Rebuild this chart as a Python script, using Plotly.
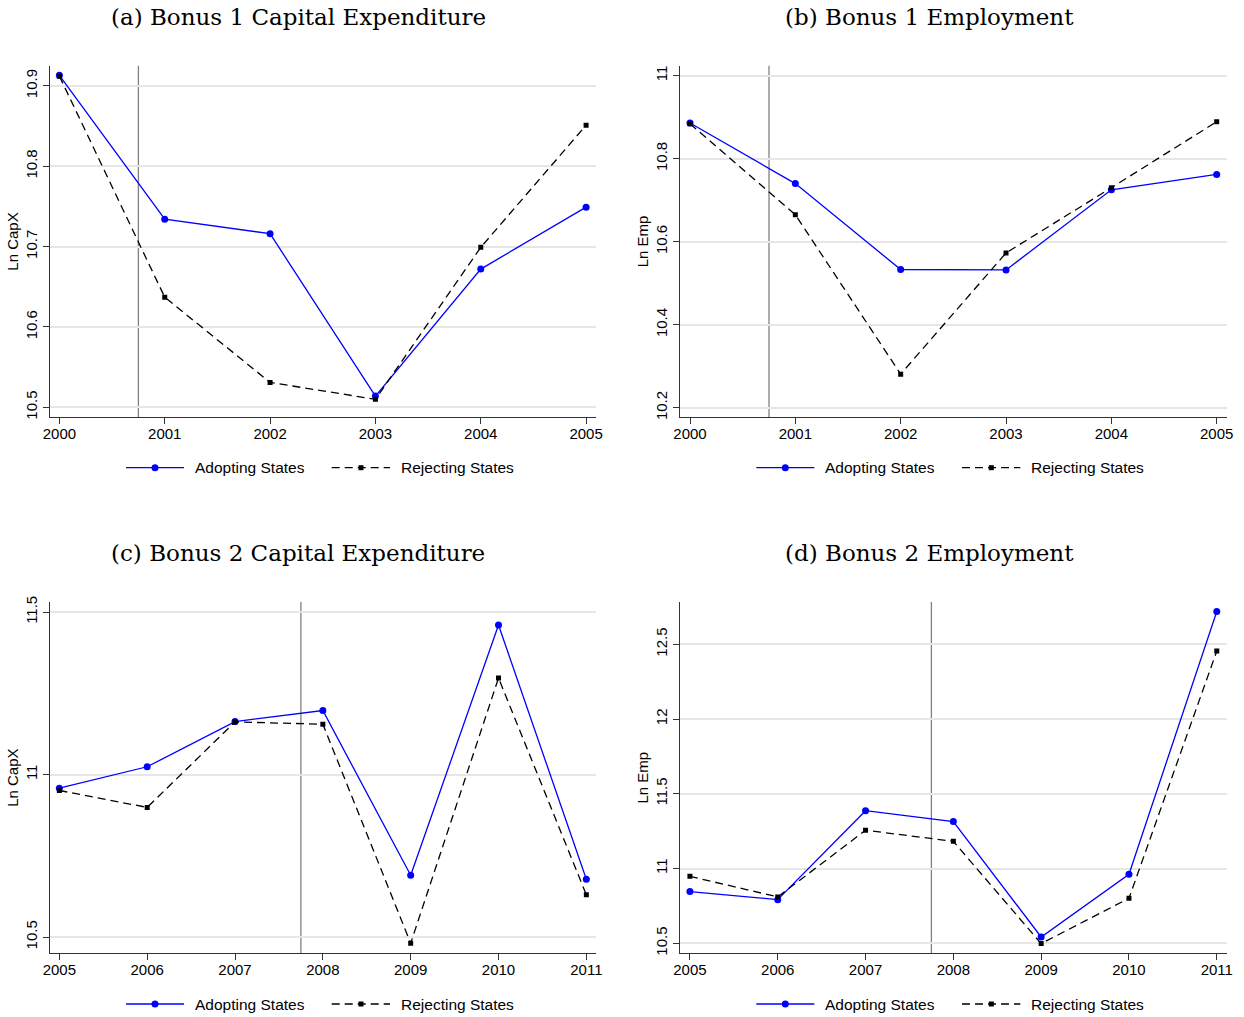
import plotly.graph_objects as go

# ---------------- data ----------------
years1 = [2000, 2001, 2002, 2003, 2004, 2005]
years2 = [2005, 2006, 2007, 2008, 2009, 2010, 2011]

a_adopt = [10.913, 10.734, 10.716, 10.514, 10.672, 10.749]
a_reject = [10.912, 10.637, 10.531, 10.510, 10.699, 10.851]
b_adopt = [10.886, 10.740, 10.533, 10.532, 10.725, 10.762]
b_reject = [10.884, 10.665, 10.281, 10.573, 10.730, 10.889]
c_adopt = [10.958, 11.024, 11.163, 11.197, 10.690, 11.460, 10.678]
c_reject = [10.951, 10.899, 11.162, 11.155, 10.481, 11.297, 10.630]
d_adopt = [10.846, 10.792, 11.387, 11.314, 10.542, 10.962, 12.719]
d_reject = [10.948, 10.810, 11.256, 11.182, 10.498, 10.801, 12.455]

titles = ["(a) Bonus 1 Capital Expenditure", "(b) Bonus 1 Employment",
          "(c) Bonus 2 Capital Expenditure", "(d) Bonus 2 Employment"]
ytitles = ["Ln CapX", "Ln Emp", "Ln CapX", "Ln Emp"]
yticks_a = [10.5, 10.6, 10.7, 10.8, 10.9]
yticks_b = [10.2, 10.4, 10.6, 10.8, 11]
yticks_c = [10.5, 11, 11.5]
yticks_d = [10.5, 11, 11.5, 12, 12.5]
ytick_text_a = ["10.5", "10.6", "10.7", "10.8", "10.9"]
ytick_text_b = ["10.2", "10.4", "10.6", "10.8", "11"]
ytick_text_c = ["10.5", "11", "11.5"]
ytick_text_d = ["10.5", "11", "11.5", "12", "12.5"]
vlines = [2000.75, 2000.75, 2007.75, 2007.75]
legend_labels = ["Adopting States", "Rejecting States"]

# ---------------- layout constants ----------------
W, H = 1244, 1017
BLUE = "#0000ff"
BLACK = "#000000"
GRID = "#e6e6e6"
AXIS = "#333333"
TICKFONT = dict(family="Liberation Sans, Arial, sans-serif", size=15, color="#000000")
TITLEFONT = dict(family="DejaVu Serif, serif", size=23, color="#000000")


def px_x(p):
    return p / W


def px_y(p):
    return 1 - p / H


panels = [
    dict(years=years1, adopt=a_adopt, reject=a_reject, yt=yticks_a, ytt=ytick_text_a,
         xr=[1999.908, 2005.094], yr=[10.4876, 10.925], xpx=(49.7, 596.0), ypx=(65.7, 417.3)),
    dict(years=years1, adopt=b_adopt, reject=b_reject, yt=yticks_b, ytt=ytick_text_b,
         xr=[1999.905, 2005.095], yr=[10.177, 11.024], xpx=(680.0, 1226.7), ypx=(65.7, 417.3)),
    dict(years=years2, adopt=c_adopt, reject=c_reject, yt=yticks_c, ytt=ytick_text_c,
         xr=[2004.890, 2011.110], yr=[10.450, 11.531], xpx=(49.7, 596.0), ypx=(602.0, 953.3)),
    dict(years=years2, adopt=d_adopt, reject=d_reject, yt=yticks_d, ytt=ytick_text_d,
         xr=[2004.887, 2011.113], yr=[10.433, 12.783], xpx=(680.0, 1226.7), ypx=(602.0, 953.3)),
]

fig = go.Figure()
shapes = []
annotations = []
layout_axes = {}

for i, p in enumerate(panels):
    n = i + 1
    xa = "x" if n == 1 else f"x{n}"
    ya = "y" if n == 1 else f"y{n}"
    xkey = "xaxis" if n == 1 else f"xaxis{n}"
    ykey = "yaxis" if n == 1 else f"yaxis{n}"

    fig.add_trace(go.Scatter(
        x=p["years"], y=p["adopt"], mode="lines+markers", xaxis=xa, yaxis=ya,
        line=dict(color=BLUE, width=1.3), marker=dict(symbol="circle", size=7, color=BLUE),
        showlegend=False, name=legend_labels[0]))
    fig.add_trace(go.Scatter(
        x=p["years"], y=p["reject"], mode="lines+markers", xaxis=xa, yaxis=ya,
        line=dict(color=BLACK, width=1.3, dash="8px,5px"),
        marker=dict(symbol="square", size=5, color=BLACK),
        showlegend=False, name=legend_labels[1]))

    layout_axes[xkey] = dict(
        domain=[px_x(p["xpx"][0]), px_x(p["xpx"][1])], range=p["xr"], anchor=ya,
        tickvals=p["years"], ticktext=[str(v) for v in p["years"]],
        showgrid=False, zeroline=False, showline=True, linecolor=AXIS, linewidth=1.3,
        ticks="outside", ticklen=6, tickwidth=1.3, tickcolor=AXIS, tickfont=TICKFONT,
        ticklabelstandoff=-3, fixedrange=True, automargin=False)
    layout_axes[ykey] = dict(
        domain=[px_y(p["ypx"][1]), px_y(p["ypx"][0])], range=p["yr"], anchor=xa,
        tickvals=p["yt"], ticktext=p["ytt"], tickangle=-90,
        showgrid=True, gridcolor=GRID, gridwidth=1.5, zeroline=False,
        showline=True, linecolor=AXIS, linewidth=1.3,
        ticks="outside", ticklen=6, tickwidth=1.3, tickcolor=AXIS, tickfont=TICKFONT,
        title=dict(text=ytitles[i], font=TICKFONT, standoff=0), fixedrange=True,
        automargin=False)

    # vertical reference line
    shapes.append(dict(type="line", xref=xa, yref=f"{ya} domain", x0=vlines[i], x1=vlines[i],
                       y0=0, y1=1, line=dict(color="#808080", width=1.3), layer="below"))

    # panel title
    cx = 298 if i % 2 == 0 else 929.5
    cy = 17 if i < 2 else 553
    annotations.append(dict(text=titles[i], xref="paper", yref="paper", x=px_x(cx), y=px_y(cy),
                            xanchor="center", yanchor="middle", showarrow=False, font=TITLEFONT))

    # custom legend
    off_x = 0 if i % 2 == 0 else 630.3
    ly = px_y(467.7 if i < 2 else 1004.0)
    # adopting
    shapes.append(dict(type="line", xref="paper", yref="paper", x0=px_x(126 + off_x), x1=px_x(184 + off_x),
                       y0=ly, y1=ly, line=dict(color=BLUE, width=1.3)))
    shapes.append(dict(type="circle", xref="paper", yref="paper", xsizemode="pixel", ysizemode="pixel",
                       xanchor=px_x(155 + off_x), yanchor=ly, x0=-3.5, x1=3.5, y0=-3.5, y1=3.5,
                       fillcolor=BLUE, line=dict(color=BLUE, width=0)))
    annotations.append(dict(text=legend_labels[0], xref="paper", yref="paper", x=px_x(193 + off_x), y=ly,
                            xanchor="left", yanchor="middle", showarrow=False, font=dict(TICKFONT, size=15.5)))
    # rejecting
    shapes.append(dict(type="line", xref="paper", yref="paper", x0=px_x(331.7 + off_x), x1=px_x(390 + off_x),
                       y0=ly, y1=ly, line=dict(color=BLACK, width=1.3, dash="8px,5px")))
    shapes.append(dict(type="rect", xref="paper", yref="paper", xsizemode="pixel", ysizemode="pixel",
                       xanchor=px_x(361 + off_x), yanchor=ly, x0=-2.5, x1=2.5, y0=-2.5, y1=2.5,
                       fillcolor=BLACK, line=dict(color=BLACK, width=0)))
    annotations.append(dict(text=legend_labels[1], xref="paper", yref="paper", x=px_x(399 + off_x), y=ly,
                            xanchor="left", yanchor="middle", showarrow=False, font=dict(TICKFONT, size=15.5)))

fig.update_layout(
    width=W, height=H, margin=dict(l=0, r=0, t=0, b=0, autoexpand=False),
    paper_bgcolor="white", plot_bgcolor="white",
    showlegend=False, shapes=shapes, annotations=annotations,
    **layout_axes)

fig.write_html(
    "out.html",
    config={"displayModeBar": False},
    post_script="document.body.style.margin='0px';document.body.style.overflow='hidden';")
